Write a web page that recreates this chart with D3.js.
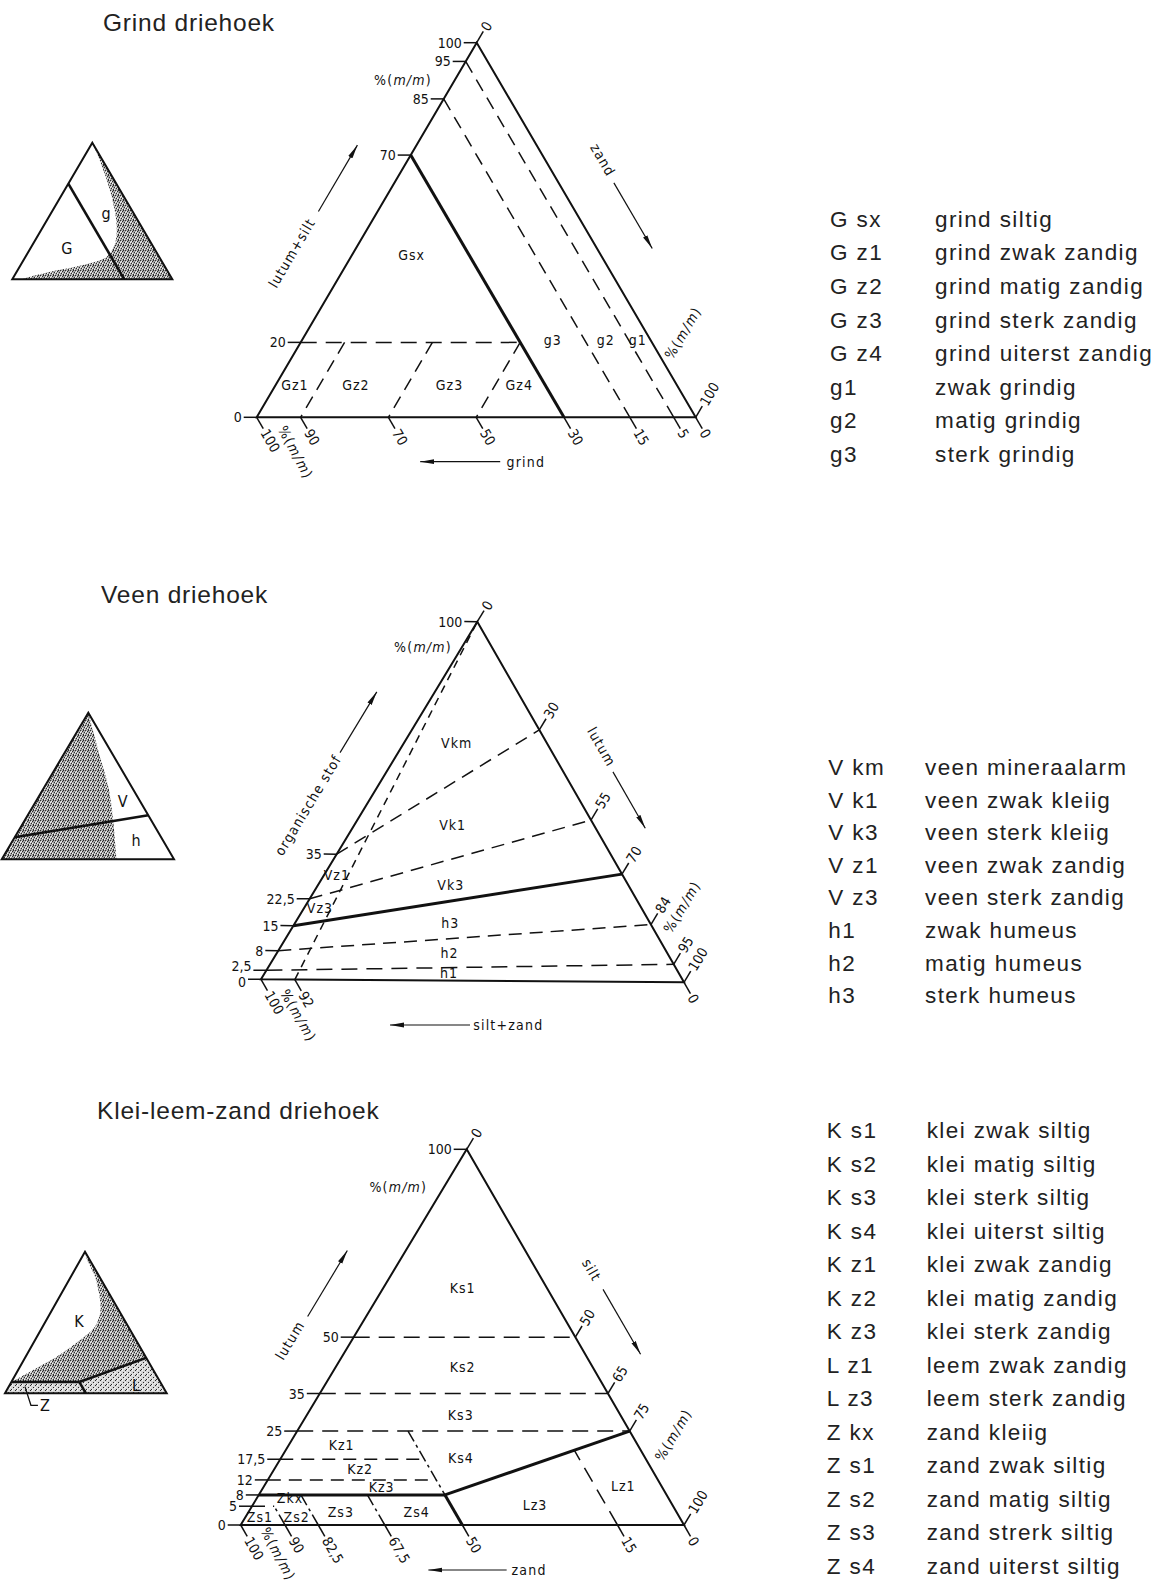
<!DOCTYPE html>
<html><head><meta charset="utf-8">
<script src="https://cdn.jsdelivr.net/npm/d3@7"></script>
<style>
body{margin:0;background:#fff;}
svg{display:block;}
.tk{font-family:"DejaVu Sans Condensed","DejaVu Sans",sans-serif;font-stretch:condensed;font-size:14px;fill:#111;}
.rg{font-family:"DejaVu Sans Condensed","DejaVu Sans",sans-serif;font-stretch:condensed;font-size:14px;fill:#111;letter-spacing:1px;}
.ax{font-family:"DejaVu Sans Condensed","DejaVu Sans",sans-serif;font-stretch:condensed;font-size:14px;fill:#111;letter-spacing:1.2px;}
.ic{font-family:"DejaVu Sans Condensed","DejaVu Sans",sans-serif;font-stretch:condensed;font-size:16px;fill:#111;}
.lg{font-family:"Liberation Sans",Arial,sans-serif;font-size:22.5px;fill:#222;letter-spacing:1.4px;}
.tt{font-family:"Liberation Sans",Arial,sans-serif;font-size:24.5px;fill:#222;letter-spacing:0.8px;}
</style></head><body>
<script>
// ================= DATA =================
// Ternary points are [apex component, bottom-left component, bottom-right component]
// Grind: apex = lutum+silt, bottom-left = grind, bottom-right = zand
const grindLeftTicks=[100,95,85,70,20,0];
const grindRightTicks=[0,100];
const grindBottomTicks=[100,90,70,50,30,15,5,0];
const grindBounds=[
  {from:[70,30,0],to:[0,30,70],kind:"thick"},
  {from:[85,15,0],to:[0,15,85],kind:"dash"},
  {from:[95,5,0],to:[0,5,95],kind:"dash"},
  {from:[20,80,0],to:[20,30,50],kind:"dashL"},
  {from:[20,70,10],to:[0,90,10],kind:"dash"},
  {from:[20,50,30],to:[0,70,30],kind:"dash"},
  {from:[20,30,50],to:[0,50,50],kind:"dash"}];
const grindRegionNames=["Gsx","g3","g2","g1","Gz1","Gz2","Gz3","Gz4"];
const grindRegionPos=[[43.3,43.1,13.6],[20.6,22.3,57.1],[20.6,10.2,69.2],[20.6,2.9,76.5],
  [8.6,87,4.4],[8.6,73.1,18.3],[8.6,51.8,39.6],[8.6,35.9,55.5]];
const grindLegendCodes=["G sx","G z1","G z2","G z3","G z4","g1","g2","g3"];
const grindLegendNames=["grind siltig","grind zwak zandig","grind matig zandig","grind sterk zandig","grind uiterst zandig","zwak grindig","matig grindig","sterk grindig"];

// Veen: apex = organische stof, bottom-left = silt+zand, bottom-right = lutum
const veenLeftTicks=[100,35,22.5,15,8,2.5,0];
const veenRightTicks=[0,30,55,70,84,95,100];
const veenBottomTicks=[100,92,0];
const veenBounds=[
  {from:[35,65,0],to:[70,0,30],kind:"dash"},
  {from:[22.5,77.5,0],to:[45,0,55],kind:"dash"},
  {from:[15,85,0],to:[30,0,70],kind:"thick"},
  {from:[8,92,0],to:[16,0,84],kind:"dash"},
  {from:[2.5,97.5,0],to:[5,0,95],kind:"dashL"},
  {from:[0,92,8],to:[100,0,0],kind:"dashS"}];
const veenRegionNames=["Vkm","Vk1","Vk3","h3","h2","h1","Vz1","Vz3"];
const veenRegionPos=[[66.2,21.4,12.4],[43.4,33.5,23.1],[26.7,42.1,31.2],[16.1,47.4,36.5],
  [7.7,51.7,40.6],[2.1,54.5,43.4],[29.2,67.8,3.0],[20,76.3,3.7]];
const veenLegendCodes=["V km","V k1","V k3","V z1","V z3","h1","h2","h3"];
const veenLegendNames=["veen mineraalarm","veen zwak kleiig","veen sterk kleiig","veen zwak zandig","veen sterk zandig","zwak humeus","matig humeus","sterk humeus"];

// Klei-leem-zand: apex = lutum, bottom-left = zand, bottom-right = silt
const kleiLeftTicks=[100,50,35,25,17.5,12,8,5,0];
const kleiRightTicks=[0,50,65,75,100];
const kleiBottomTicks=[100,90,82.5,67.5,50,15,0];
const kleiBounds=[
  {from:[50,50,0],to:[50,0,50],kind:"dashL"},
  {from:[35,65,0],to:[35,0,65],kind:"dashL"},
  {from:[25,75,0],to:[25,0,75],kind:"dashL"},
  {from:[17.5,82.5,0],to:[17.5,50,32.5],kind:"dash"},
  {from:[12,88,0],to:[12,50,38],kind:"dash"},
  {from:[8,92,0],to:[8,50,42],kind:"thick"},
  {from:[5,95,0],to:[5,90,5],kind:"dash"},
  {from:[25,50,25],to:[8,50,42],kind:"dashdot"},
  {from:[8,50,42],to:[0,50,50],kind:"thick"},
  {from:[8,50,42],to:[25,0,75],kind:"thick"},
  {from:[0,15,85],to:[19.9,15,65.1],kind:"dashL"},
  {from:[0,90,10],to:[5,90,5],kind:"dashdot"},
  {from:[0,82.5,17.5],to:[8,82.5,9.5],kind:"dashdot"},
  {from:[0,67.5,32.5],to:[8,67.5,24.5],kind:"dashdot"}];
const kleiRegionNames=["Ks1","Ks2","Ks3","Ks4","Kz1","Kz2","Kz3","Zkx","Zs1","Zs2","Zs3","Zs4","Lz3","Lz1"];
const kleiRegionPos=[[63.1,19,17.9],[42.1,29.3,28.6],[29.3,36,34.7],[17.8,41.6,40.6],
  [21.3,66.8,11.9],[14.8,65.8,19.4],[10.2,63.2,26.6],[7.1,85.4,7.5],[2.2,94.6,3.2],
  [2.2,86.3,11.5],[3.5,75.7,20.8],[3.5,58.6,37.9],[5.3,31,63.7],[10.4,8.6,81]];
const kleiLegendCodes=["K s1","K s2","K s3","K s4","K z1","K z2","K z3","L z1","L z3","Z kx","Z s1","Z s2","Z s3","Z s4"];
const kleiLegendNames=["klei zwak siltig","klei matig siltig","klei sterk siltig","klei uiterst siltig","klei zwak zandig","klei matig zandig","klei sterk zandig","leem zwak zandig","leem sterk zandig","zand kleiig","zand zwak siltig","zand matig siltig","zand strerk siltig","zand uiterst siltig"];

// Small overview triangles
const icon1Lines=[[[70,30,0],[0,30,70]]];
const icon1Shade=[[100,0,0],[89.8,1.3,8.9],[72.7,4.6,22.7],[55.6,9.1,35.3],[38.5,15.5,46],[26.4,22.6,51],[16.5,32.8,50.7],[10.5,50.4,39.1],[5.6,73.6,20.8],[0,95,5]];
const icon1Labels=[["G",[22.9,54.5,22.6]],["g",[48.5,17.2,34.3]]];
const icon2Lines=[[[15,85,0],[30,0,70]]];
const icon2Shade=[[100,0,0],[70,8.1,21.9],[49.5,13.5,37],[38.2,17.6,44.6],[24.6,22.9,52.4],[0,33.3,66.7]];
const icon2Labels=[["V",[39.3,10.2,50.5]],["h",[13.2,15.5,71.3]]];
const icon3Lines=[[[8,92,0],[8,50,42]],[[8,50,42],[0,50,50]],[[8,50,42],[25,0,75]]];
const icon3Shade=[[100,0,0],[94.1,1.6,4.3],[82.3,2.8,14.9],[65.9,7.9,26.1],[56.5,12.7,30.8],[47,20.6,32.4],[37.6,34.6,27.8],[25.8,55,19.2],[16.5,74.2,9.3],[8.7,90.5,0.8]];
const icon3Labels=[["K",[50.6,28.7,20.7]],["L",[5.9,16,78.1]]];
const icon3ZLeader=[4.7,85.3,10];

// ================= DRAWING =================
const W=1157,H=1584;
const svg=d3.select("body").append("svg").attr("width",W).attr("height",H);
const defs=svg.append("defs");
defs.append("marker").attr("id","ah").attr("viewBox","0 0 14 6").attr("refX",14).attr("refY",3)
  .attr("markerWidth",14).attr("markerHeight",6).attr("markerUnits","userSpaceOnUse").attr("orient","auto")
  .append("path").attr("d","M0,0.6L14,3L0,5.4Z").attr("fill","#111");
function pattern(id,base,dark,light){
  const p=defs.append("pattern").attr("id",id).attr("width",5).attr("height",5).attr("patternUnits","userSpaceOnUse");
  p.append("rect").attr("width",5).attr("height",5).attr("fill",base);
  dark.forEach(([x,y])=>p.append("rect").attr("x",x).attr("y",y).attr("width",1).attr("height",1).attr("fill","#2a2a2a"));
  light.forEach(([x,y])=>p.append("rect").attr("x",x).attr("y",y).attr("width",1).attr("height",1).attr("fill","#f4f4f4"));
}
pattern("stipD","#a8a8a8",[[0,0],[2,1],[4,2],[1,3],[3,4],[3,0]],[[1,1],[4,4],[2,3],[0,2]]);
pattern("stipL","#d6d6d6",[[0,0],[3,2],[1,4]],[[2,0],[4,3],[0,2],[2,4]]);

function makeTern(A,L,R){
  const lx=d3.scaleLinear([0,100],[L[0],A[0]]), ly=d3.scaleLinear([0,100],[L[1],A[1]]);
  const rx=d3.scaleLinear([0,100],[R[0],A[0]]), ry=d3.scaleLinear([0,100],[R[1],A[1]]);
  const f=p=>{const a=p[0],s=p[1]+p[2],t=s===0?0:p[2]/s;
    const x0=lx(a),y0=ly(a),x1=rx(a),y1=ry(a);return [x0+(x1-x0)*t,y0+(y1-y0)*t];};
  f.A=A;f.L=L;f.R=R;return f;
}
const unit=(p,q)=>{const dx=q[0]-p[0],dy=q[1]-p[1],n=Math.hypot(dx,dy);return [dx/n,dy/n];};
const deg=v=>Math.atan2(v[1],v[0])*180/Math.PI;
const fmt=v=>String(v).replace(".",",");
const dashes={dash:"13 8",dashL:"16 9",dashS:"8 6",dashdot:"12 4 3 4"};
function sidePt(P0,P1,opp,t,perp){
  const x=P0[0]+(P1[0]-P0[0])*t,y=P0[1]+(P1[1]-P0[1])*t;
  const d=unit(P0,P1);let n=[-d[1],d[0]];
  if((opp[0]-x)*n[0]+(opp[1]-y)*n[1]>0) n=[-n[0],-n[1]];
  return [x+n[0]*perp,y+n[1]*perp];
}

function drawTriangle(spec){
  const T=makeTern(spec.A,spec.L,spec.R);
  const g=svg.append("g");
  spec.bounds.forEach(b=>{
    const p=T(b.from),q=T(b.to);
    g.append("line").attr("x1",p[0]).attr("y1",p[1]).attr("x2",q[0]).attr("y2",q[1])
      .attr("stroke","#111").attr("stroke-width",b.kind==="thick"?3:1.5)
      .attr("stroke-dasharray",b.kind==="thick"?null:dashes[b.kind]);
  });
  g.append("path").attr("d",d3.line()([T.A,T.L,T.R])+"Z").attr("fill","none")
    .attr("stroke","#111").attr("stroke-width",2).attr("stroke-linejoin","miter");
  const TL=13, lay=spec.lay, nudge=lay.leftNudge||{};
  const dL=unit(T.R,T.L),dR=unit(T.L,T.A),dB=unit(T.A,T.R);
  const tick=(p,d,v,rot)=>{
    const e=[p[0]+d[0]*TL,p[1]+d[1]*TL];
    g.append("line").attr("x1",p[0]).attr("y1",p[1]).attr("x2",e[0]).attr("y2",e[1])
      .attr("stroke","#111").attr("stroke-width",1.5);
    if(rot===null){
      g.append("text").attr("class","tk").attr("x",e[0]-2).attr("y",e[1]+(nudge[v]||0)).attr("dy","0.36em")
        .attr("text-anchor","end").text(fmt(v));
    } else {
      const s=[e[0]+d[0]*2,e[1]+d[1]*2];
      g.append("text").attr("class","tk").attr("transform",`translate(${s[0]},${s[1]}) rotate(${rot})`)
        .attr("dy","0.36em").attr("text-anchor","start").text(fmt(v));
    }
  };
  spec.leftTicks.forEach(v=>tick(T([v,100-v,0]),dL,v,null));
  spec.rightTicks.forEach(v=>tick(T([100-v,0,v]),dR,v,deg(dR)));
  spec.bottomTicks.forEach(v=>tick(T([0,v,100-v]),dB,v,deg(dB)));
  spec.regionNames.forEach((n,i)=>{const p=T(spec.regionPos[i]);
    g.append("text").attr("class","rg").attr("x",p[0]).attr("y",p[1]).attr("dy","0.36em")
      .attr("text-anchor","middle").text(n);});
  // %(m/m)
  const pm=(x,y,rot)=>{const t=g.append("text").attr("class","ax").attr("text-anchor","middle").attr("dy","0.36em")
      .attr("transform",`translate(${x},${y}) rotate(${rot})`);
    t.append("tspan").text("%(");t.append("tspan").attr("font-style","italic").text("m/m");t.append("tspan").text(")");};
  pm(T.A[0]+lay.pmTop[0],T.A[1]+lay.pmTop[1],0);
  const pr=sidePt(T.A,T.R,T.L,lay.pmRight[0],lay.pmRight[1]);
  pm(pr[0],pr[1],deg(dR));
  pm(T.L[0]+lay.pmBottom[0],T.L[1]+lay.pmBottom[1],deg(dB)+(lay.pmBottom[2]||0));
  // axis titles + arrows
  const lenL=Math.hypot(T.A[0]-T.L[0],T.A[1]-T.L[1]),lenR=Math.hypot(T.R[0]-T.A[0],T.R[1]-T.A[1]);
  const arrow=(p,q)=>g.append("line").attr("x1",p[0]).attr("y1",p[1]).attr("x2",q[0]).attr("y2",q[1])
      .attr("stroke","#111").attr("stroke-width",1.2).attr("marker-end","url(#ah)");
  const lt=sidePt(T.L,T.A,T.R,lay.leftTitle[0],lay.leftTitle[1]);
  g.append("text").attr("class","ax").attr("text-anchor","middle").attr("dy","0.36em")
    .attr("transform",`translate(${lt[0]},${lt[1]}) rotate(${deg(unit(T.L,T.A))})`).text(spec.titles[0]);
  const la=lay.leftArrow;
  arrow(sidePt(T.L,T.A,T.R,la[0]-la[2]/2/lenL,la[1]),sidePt(T.L,T.A,T.R,la[0]+la[2]/2/lenL,la[1]));
  const rt=sidePt(T.A,T.R,T.L,lay.rightTitle[0],lay.rightTitle[1]);
  g.append("text").attr("class","ax").attr("text-anchor","middle").attr("dy","0.36em")
    .attr("transform",`translate(${rt[0]},${rt[1]}) rotate(${deg(unit(T.A,T.R))})`).text(spec.titles[1]);
  const ra=lay.rightArrow;
  arrow(sidePt(T.A,T.R,T.L,ra[0]-ra[2]/2/lenR,ra[1]),sidePt(T.A,T.R,T.L,ra[0]+ra[2]/2/lenR,ra[1]));
  const mid=(T.L[0]+T.R[0])/2,base=(T.L[1]+T.R[1])/2,bl=lay.bottom;
  g.append("text").attr("class","ax").attr("text-anchor","middle").attr("dy","0.36em")
    .attr("x",mid+bl[0]).attr("y",base+bl[1]).text(spec.titles[2]);
  arrow([mid+bl[2],base+bl[1]],[mid+bl[3],base+bl[1]]);
}

function drawIcon(A,L,R,lines,shadeCurve,closeCorners,labels,extra){
  const T=makeTern(A,L,R);
  const g=svg.append("g");
  const curve=d3.line().curve(d3.curveCatmullRom)(shadeCurve.map(T));
  const tail=closeCorners.map(c=>"L"+T(c).join(",")).join("");
  g.append("path").attr("d",curve+tail+"Z").attr("fill","url(#stipD)");
  if(extra) extra(g,T);
  lines.forEach(([a,b])=>{const p=T(a),q=T(b);
    g.append("line").attr("x1",p[0]).attr("y1",p[1]).attr("x2",q[0]).attr("y2",q[1])
      .attr("stroke","#111").attr("stroke-width",2.6);});
  g.append("path").attr("d",d3.line()([T.A,T.L,T.R])+"Z").attr("fill","none")
    .attr("stroke","#111").attr("stroke-width",2);
  labels.forEach(([n,p])=>{const q=T(p);
    g.append("text").attr("class","ic").attr("x",q[0]).attr("y",q[1]).attr("dy","0.36em")
      .attr("text-anchor","middle").text(n);});
  return {g,T};
}

function drawLegend(codes,names,x1,x2,y0,step){
  const y=d3.scaleLinear([0,1],[y0,y0+step]);
  const g=svg.append("g");
  codes.forEach((c,i)=>{
    g.append("text").attr("class","lg").attr("x",x1).attr("y",y(i)).text(c);
    g.append("text").attr("class","lg").attr("x",x2).attr("y",y(i)).text(names[i]);
  });
}

// titles
svg.append("text").attr("class","tt").attr("x",103).attr("y",31).text("Grind driehoek");
svg.append("text").attr("class","tt").attr("x",101).attr("y",603).text("Veen driehoek");
svg.append("text").attr("class","tt").attr("x",97).attr("y",1119).text("Klei-leem-zand driehoek");

drawTriangle({A:[476.7,42.7],L:[256.7,417.3],R:[695.7,417.3],
  bounds:grindBounds,leftTicks:grindLeftTicks,rightTicks:grindRightTicks,bottomTicks:grindBottomTicks,
  regionNames:grindRegionNames,regionPos:grindRegionPos,titles:["lutum+silt","zand","grind"],
  lay:{pmTop:[-73.7,37.3],pmRight:[0.817,31.6],pmBottom:[39,35,2],
    leftTitle:[0.367,53],leftArrow:[0.569,51,77],rightTitle:[0.380,49.8],rightArrow:[0.526,47.7,76],
    bottom:[49.6,44.4,24,-56]}});
drawTriangle({A:[477.3,621.7],L:[261,979.3],R:[684,982.3],
  bounds:veenBounds,leftTicks:veenLeftTicks,rightTicks:veenRightTicks,bottomTicks:veenBottomTicks,
  regionNames:veenRegionNames,regionPos:veenRegionPos,titles:["organische stof","lutum","silt+zand"],
  lay:{pmTop:[-54.3,25],pmRight:[0.84,35.8],pmBottom:[37.4,36.2,0],leftNudge:{2.5:-4,0:3},
    leftTitle:[0.415,50],leftArrow:[0.647,49.7,71],rightTitle:[0.41,45.7],rightArrow:[0.554,43,65],
    bottom:[35.8,44.2,-2.5,-82.5]}});
drawTriangle({A:[466.7,1149.3],L:[240.7,1525],R:[684,1525],
  bounds:kleiBounds,leftTicks:kleiLeftTicks,rightTicks:kleiRightTicks,bottomTicks:kleiBottomTicks,
  regionNames:kleiRegionNames,regionPos:kleiRegionPos,titles:["lutum","silt","zand"],
  lay:{pmTop:[-68.4,37.4],pmRight:[0.808,35.8],pmBottom:[37.6,29,2],
    leftTitle:[0.419,53.1],leftArrow:[0.574,50.1,77],rightTitle:[0.385,47.8],rightArrow:[0.523,47.9,75],
    bottom:[66.7,45,44.3,-34]}});

drawIcon([92.3,142.7],[12.3,279.3],[172.3,279.3],icon1Lines,icon1Shade,[[0,0,100]],icon1Labels);
drawIcon([88.3,712.7],[1.7,859.3],[174,859.3],icon2Lines,icon2Shade,[[0,100,0]],icon2Labels);
const ic3=drawIcon([85,1251.7],[5,1393.3],[166.7,1393.3],icon3Lines,icon3Shade,[[8,92,0],[8,50,42],[25,0,75]],icon3Labels,
  (g,T)=>{g.append("path").attr("d",d3.line()([[8,92,0],[0,100,0],[0,0,100],[25,0,75],[8,50,42]].map(T))+"Z").attr("fill","url(#stipL)");});
{ const T=ic3.T,p=T(icon3ZLeader),c=[p[0]+6,T.L[1]+12],e=[c[0]+7,c[1]];
  ic3.g.append("path").attr("d",d3.line()([p,c,e])).attr("fill","none").attr("stroke","#111").attr("stroke-width",1.3);
  ic3.g.append("text").attr("class","ic").attr("x",e[0]+2).attr("y",e[1]).attr("dy","0.36em").text("Z"); }

drawLegend(grindLegendCodes,grindLegendNames,830,935,226.7,33.6);
drawLegend(veenLegendCodes,veenLegendNames,828.3,925,775,32.6);
drawLegend(kleiLegendCodes,kleiLegendNames,826.7,926.7,1138.3,33.5);
</script></body></html>
